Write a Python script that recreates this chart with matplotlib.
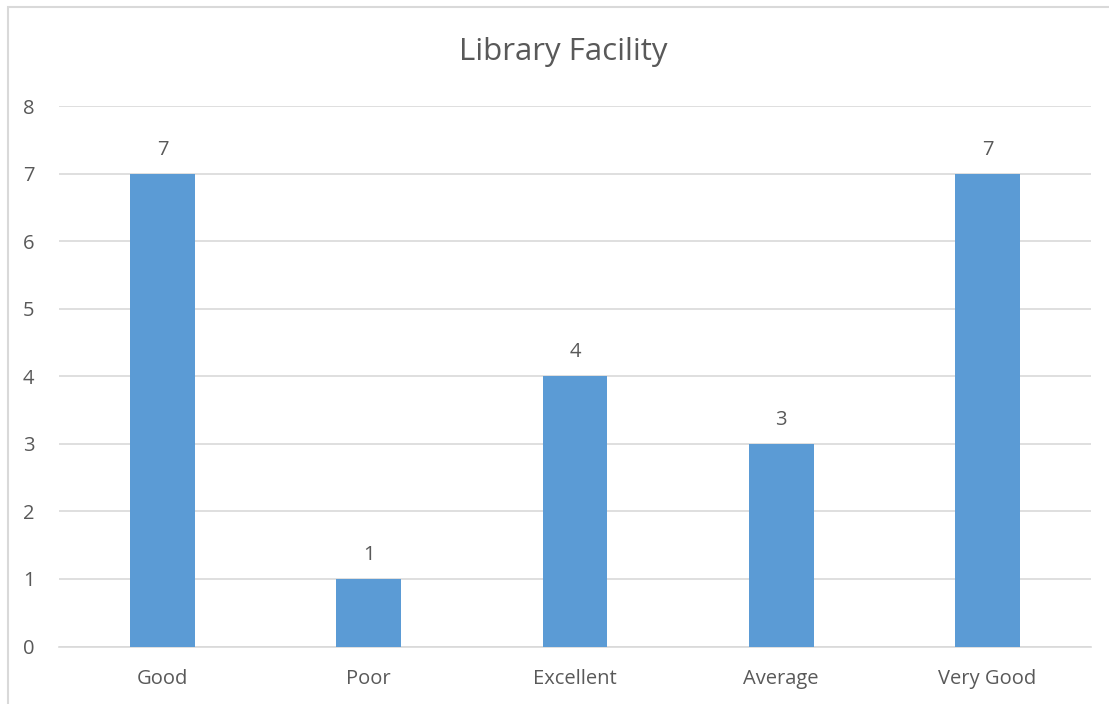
import matplotlib.pyplot as plt
from matplotlib.patches import Rectangle

categories = ['Good', 'Poor', 'Excellent', 'Average', 'Very Good']
counts = [7, 1, 4, 3, 7]
yticks = [0, 1, 2, 3, 4, 5, 6, 7, 8]

textColor = '#595959'
gridColor = '#D9D9D9'
barColor = '#5B9BD5'

plt.rcParams['font.family'] = ['Open Sans', 'DejaVu Sans']

fig = plt.figure(figsize=(11.09, 7.04), dpi=100)
ax = fig.add_axes([59.4 / 1109, 1 - 646.5 / 704, (1090.6 - 59.4) / 1109, (646.5 - 106) / 704])

# chart area border
fig.patches.append(Rectangle((8 / 1109, -0.1), 1.2, 1 - 7 / 704 + 0.1,
                             transform=fig.transFigure, fill=False,
                             edgecolor=gridColor, linewidth=1.5))

xpos = range(len(categories))
bars = ax.bar(xpos, counts, width=0.315, color=barColor, zorder=3)

for b, v in zip(bars, counts):
    ax.annotate(str(v), (b.get_x() + b.get_width() / 2, v), xytext=(0, 10),
                textcoords='offset points', ha='center', va='bottom',
                fontsize=14.5, color=textColor)

ax.set_xlim(-0.5, len(categories) - 0.5)
ax.set_ylim(0, 8)
ax.set_yticks(yticks)
ax.set_xticks(list(xpos))
ax.set_xticklabels(categories)
ax.grid(axis='y', color=gridColor, linewidth=1.2, zorder=0)
ax.tick_params(axis='both', length=0, labelsize=14.5, labelcolor=textColor)
ax.tick_params(axis='y', pad=18)
ax.tick_params(axis='x', pad=16)
for s in ['top', 'right', 'left']:
    ax.spines[s].set_visible(False)
ax.spines['bottom'].set_color(gridColor)
ax.spines['bottom'].set_linewidth(1.2)

fig.text(563 / 1109, 1 - 52 / 704, 'Library Facility', ha='center', va='center',
         fontsize=22.5, color=textColor)

plt.savefig('out.png', dpi=100)
